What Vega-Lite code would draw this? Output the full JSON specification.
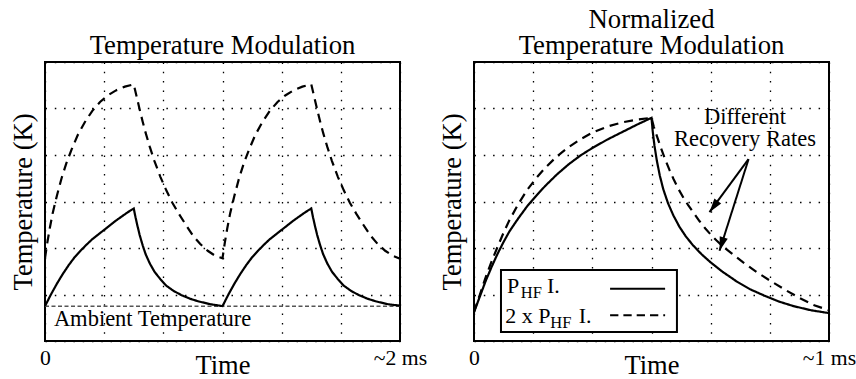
{
  "$schema": "https://vega.github.io/schema/vega-lite/v6.json",
  "padding": {"left": 9, "top": 6, "right": 0, "bottom": 0},
  "config": {
    "font": "Liberation Serif",
    "view": {"stroke": "#000", "strokeWidth": 2},
    "axis": {"grid": true, "gridColor": "#000", "gridDash": [1.5, 7.8], "gridWidth": 1.3, "gridOpacity": 1, "domain": false, "ticks": false, "tickSize": 0, "labelFont": "Liberation Serif", "labelFontSize": 21.7, "labelColor": "#000", "titleFont": "Liberation Serif", "titleFontSize": 26.5, "titleFontWeight": "normal", "titleColor": "#000", "labelOverlap": false, "labelFlush": false},
    "axisX": {"labelBaseline": "alphabetic", "labelPadding": 23, "titleBaseline": "alphabetic", "titleY": 32, "titleFontWeight": "normal"},
    "axisY": {"labels": false, "titlePadding": 8, "titleFontWeight": "normal"},
    "title": {"font": "Liberation Serif", "fontSize": 26.7, "fontWeight": "normal", "color": "#000", "offset": 2, "lineHeight": 26, "anchor": "middle"}
  },
  "datasets": {
    "left": [
      {"s":"P","t":0,"v":0.75},{"s":"P","t":0.1,"v":1.0},{"s":"P","t":0.2,"v":1.23},{"s":"P","t":0.3,"v":1.44},{"s":"P","t":0.4,"v":1.63},{"s":"P","t":0.5,"v":1.8},{"s":"P","t":0.6,"v":1.94},{"s":"P","t":0.7,"v":2.07},{"s":"P","t":0.8,"v":2.19},{"s":"P","t":0.9,"v":2.29},{"s":"P","t":1.0,"v":2.39},{"s":"P","t":1.1,"v":2.49},{"s":"P","t":1.2,"v":2.59},{"s":"P","t":1.3,"v":2.68},{"s":"P","t":1.4,"v":2.77},{"s":"P","t":1.5,"v":2.85},
      {"s":"P","t":1.53,"v":2.66},{"s":"P","t":1.56,"v":2.49},{"s":"P","t":1.6,"v":2.28},{"s":"P","t":1.65,"v":2.06},{"s":"P","t":1.7,"v":1.87},{"s":"P","t":1.77,"v":1.67},{"s":"P","t":1.85,"v":1.49},{"s":"P","t":1.95,"v":1.33},{"s":"P","t":2.05,"v":1.19},{"s":"P","t":2.17,"v":1.08},{"s":"P","t":2.3,"v":0.99},{"s":"P","t":2.45,"v":0.91},{"s":"P","t":2.6,"v":0.85},{"s":"P","t":2.8,"v":0.79},{"s":"P","t":3.0,"v":0.75},
      {"s":"P","t":3.1,"v":1.0},{"s":"P","t":3.2,"v":1.23},{"s":"P","t":3.3,"v":1.44},{"s":"P","t":3.4,"v":1.63},{"s":"P","t":3.5,"v":1.8},{"s":"P","t":3.6,"v":1.94},{"s":"P","t":3.7,"v":2.07},{"s":"P","t":3.8,"v":2.19},{"s":"P","t":3.9,"v":2.29},{"s":"P","t":4.0,"v":2.39},{"s":"P","t":4.1,"v":2.49},{"s":"P","t":4.2,"v":2.59},{"s":"P","t":4.3,"v":2.68},{"s":"P","t":4.4,"v":2.77},{"s":"P","t":4.5,"v":2.85},
      {"s":"P","t":4.53,"v":2.66},{"s":"P","t":4.56,"v":2.49},{"s":"P","t":4.6,"v":2.28},{"s":"P","t":4.65,"v":2.06},{"s":"P","t":4.7,"v":1.87},{"s":"P","t":4.77,"v":1.67},{"s":"P","t":4.85,"v":1.49},{"s":"P","t":4.95,"v":1.33},{"s":"P","t":5.05,"v":1.19},{"s":"P","t":5.17,"v":1.08},{"s":"P","t":5.3,"v":0.99},{"s":"P","t":5.45,"v":0.91},{"s":"P","t":5.6,"v":0.85},{"s":"P","t":5.8,"v":0.79},{"s":"P","t":6.0,"v":0.76},
      {"s":"2P","t":0,"v":1.78},{"s":"2P","t":0.04,"v":2.12},{"s":"2P","t":0.08,"v":2.42},{"s":"2P","t":0.13,"v":2.75},{"s":"2P","t":0.2,"v":3.12},{"s":"2P","t":0.28,"v":3.5},{"s":"2P","t":0.36,"v":3.82},{"s":"2P","t":0.45,"v":4.12},{"s":"2P","t":0.55,"v":4.42},{"s":"2P","t":0.67,"v":4.7},{"s":"2P","t":0.8,"v":4.95},{"s":"2P","t":0.93,"v":5.14},{"s":"2P","t":1.06,"v":5.28},{"s":"2P","t":1.2,"v":5.39},{"s":"2P","t":1.35,"v":5.47},{"s":"2P","t":1.5,"v":5.52},
      {"s":"2P","t":1.55,"v":5.25},{"s":"2P","t":1.6,"v":4.98},{"s":"2P","t":1.65,"v":4.72},{"s":"2P","t":1.7,"v":4.48},{"s":"2P","t":1.77,"v":4.18},{"s":"2P","t":1.85,"v":3.87},{"s":"2P","t":1.95,"v":3.53},{"s":"2P","t":2.05,"v":3.24},{"s":"2P","t":2.15,"v":2.98},{"s":"2P","t":2.26,"v":2.74},{"s":"2P","t":2.38,"v":2.5},{"s":"2P","t":2.5,"v":2.27},{"s":"2P","t":2.62,"v":2.09},{"s":"2P","t":2.75,"v":1.94},{"s":"2P","t":2.88,"v":1.83},{"s":"2P","t":3.0,"v":1.78},
      {"s":"2P","t":3.04,"v":2.12},{"s":"2P","t":3.08,"v":2.42},{"s":"2P","t":3.13,"v":2.75},{"s":"2P","t":3.2,"v":3.12},{"s":"2P","t":3.28,"v":3.5},{"s":"2P","t":3.36,"v":3.82},{"s":"2P","t":3.45,"v":4.12},{"s":"2P","t":3.55,"v":4.42},{"s":"2P","t":3.67,"v":4.7},{"s":"2P","t":3.8,"v":4.95},{"s":"2P","t":3.93,"v":5.14},{"s":"2P","t":4.06,"v":5.28},{"s":"2P","t":4.2,"v":5.39},{"s":"2P","t":4.35,"v":5.47},{"s":"2P","t":4.5,"v":5.52},
      {"s":"2P","t":4.55,"v":5.25},{"s":"2P","t":4.6,"v":4.98},{"s":"2P","t":4.65,"v":4.72},{"s":"2P","t":4.7,"v":4.48},{"s":"2P","t":4.77,"v":4.18},{"s":"2P","t":4.85,"v":3.87},{"s":"2P","t":4.95,"v":3.53},{"s":"2P","t":5.05,"v":3.24},{"s":"2P","t":5.15,"v":2.98},{"s":"2P","t":5.26,"v":2.74},{"s":"2P","t":5.38,"v":2.5},{"s":"2P","t":5.5,"v":2.27},{"s":"2P","t":5.62,"v":2.09},{"s":"2P","t":5.75,"v":1.94},{"s":"2P","t":5.88,"v":1.83},{"s":"2P","t":6.0,"v":1.77}
    ],
    "right": [
      {"s":"P","t":0,"v":0.62},{"s":"P","t":0.1,"v":0.96},{"s":"P","t":0.2,"v":1.3},{"s":"P","t":0.3,"v":1.6},{"s":"P","t":0.4,"v":1.88},{"s":"P","t":0.5,"v":2.13},{"s":"P","t":0.6,"v":2.36},{"s":"P","t":0.75,"v":2.64},{"s":"P","t":0.9,"v":2.9},{"s":"P","t":1.05,"v":3.12},{"s":"P","t":1.2,"v":3.33},{"s":"P","t":1.4,"v":3.58},{"s":"P","t":1.6,"v":3.8},{"s":"P","t":1.8,"v":3.99},{"s":"P","t":2.0,"v":4.15},{"s":"P","t":2.25,"v":4.33},{"s":"P","t":2.5,"v":4.49},{"s":"P","t":2.75,"v":4.65},{"s":"P","t":3.0,"v":4.8},
      {"s":"P","t":3.02,"v":4.52},{"s":"P","t":3.05,"v":4.2},{"s":"P","t":3.09,"v":3.88},{"s":"P","t":3.14,"v":3.56},{"s":"P","t":3.2,"v":3.26},{"s":"P","t":3.28,"v":2.96},{"s":"P","t":3.37,"v":2.7},{"s":"P","t":3.47,"v":2.46},{"s":"P","t":3.58,"v":2.25},{"s":"P","t":3.7,"v":2.06},{"s":"P","t":3.85,"v":1.86},{"s":"P","t":4.0,"v":1.69},{"s":"P","t":4.2,"v":1.49},{"s":"P","t":4.44,"v":1.28},{"s":"P","t":4.67,"v":1.11},{"s":"P","t":4.9,"v":0.98},{"s":"P","t":5.15,"v":0.85},{"s":"P","t":5.4,"v":0.75},{"s":"P","t":5.7,"v":0.66},{"s":"P","t":6.0,"v":0.6},
      {"s":"2P","t":0,"v":0.62},{"s":"2P","t":0.1,"v":1.0},{"s":"2P","t":0.2,"v":1.38},{"s":"2P","t":0.3,"v":1.72},{"s":"2P","t":0.4,"v":2.03},{"s":"2P","t":0.5,"v":2.33},{"s":"2P","t":0.6,"v":2.6},{"s":"2P","t":0.75,"v":2.95},{"s":"2P","t":0.9,"v":3.25},{"s":"2P","t":1.05,"v":3.5},{"s":"2P","t":1.2,"v":3.72},{"s":"2P","t":1.4,"v":3.97},{"s":"2P","t":1.6,"v":4.17},{"s":"2P","t":1.8,"v":4.34},{"s":"2P","t":2.0,"v":4.48},{"s":"2P","t":2.25,"v":4.61},{"s":"2P","t":2.5,"v":4.7},{"s":"2P","t":2.75,"v":4.76},{"s":"2P","t":3.0,"v":4.8},
      {"s":"2P","t":3.04,"v":4.6},{"s":"2P","t":3.09,"v":4.41},{"s":"2P","t":3.16,"v":4.15},{"s":"2P","t":3.23,"v":3.91},{"s":"2P","t":3.3,"v":3.69},{"s":"2P","t":3.37,"v":3.49},{"s":"2P","t":3.45,"v":3.28},{"s":"2P","t":3.54,"v":3.08},{"s":"2P","t":3.62,"v":2.92},{"s":"2P","t":3.71,"v":2.76},{"s":"2P","t":3.81,"v":2.58},{"s":"2P","t":3.91,"v":2.42},{"s":"2P","t":4.0,"v":2.29},{"s":"2P","t":4.1,"v":2.16},{"s":"2P","t":4.22,"v":2.02},{"s":"2P","t":4.36,"v":1.88},{"s":"2P","t":4.55,"v":1.69},{"s":"2P","t":4.78,"v":1.48},{"s":"2P","t":5.0,"v":1.3},{"s":"2P","t":5.26,"v":1.1},{"s":"2P","t":5.51,"v":0.92},{"s":"2P","t":5.75,"v":0.77},{"s":"2P","t":6.0,"v":0.66}
    ]
  },
  "hconcat": [
    {
      "width": 355, "height": 279,
      "title": {"text": "Temperature Modulation"},
      "layer": [
        {
          "data": {"values": [{}]},
          "mark": {"type": "rule", "color": "#555", "strokeDash": [4, 2.5], "strokeWidth": 1.5},
          "encoding": {"y": {"datum": 0.75, "type": "quantitative", "scale": {"domain": [0, 6], "nice": false, "zero": false}}}
        },
        {
          "data": {"name": "left"},
          "mark": {"type": "line", "color": "#000", "strokeWidth": 2.2},
          "encoding": {
            "x": {"field": "t", "type": "quantitative", "scale": {"domain": [0, 6], "nice": false, "zero": false}, "axis": {"values": [0,1,2,3,4,5,6], "labelExpr": "datum.value == 0 ? '0' : (datum.value == 6 ? '~2 ms' : '')", "title": "Time", "titleFontWeight": "normal"}},
            "y": {"field": "v", "type": "quantitative", "scale": {"domain": [0, 6], "nice": false, "zero": false}, "axis": {"values": [0,1,2,3,4,5,6], "title": "Temperature (K)", "titleFontWeight": "normal"}},
            "detail": {"field": "s"},
            "strokeDash": {"field": "s", "type": "nominal", "scale": {"domain": ["P", "2P"], "range": [[1, 0], [9, 6]]}, "legend": null}
          }
        },
        {
          "data": {"values": [{}]},
          "mark": {"type": "text", "align": "left", "baseline": "alphabetic", "fontSize": 22.5, "font": "Liberation Serif", "color": "#000"},
          "encoding": {
            "x": {"datum": 0.15, "type": "quantitative"},
            "y": {"datum": 0.32, "type": "quantitative"},
            "text": {"value": "Ambient Temperature"}
          }
        }
      ]
    },
    {
      "width": 355, "height": 279,
      "title": {"text": ["Normalized", "Temperature Modulation"]},
      "layer": [
        {
          "data": {"name": "right"},
          "mark": {"type": "line", "color": "#000", "strokeWidth": 2.2},
          "encoding": {
            "x": {"field": "t", "type": "quantitative", "scale": {"domain": [0, 6], "nice": false, "zero": false}, "axis": {"values": [0,1,2,3,4,5,6], "labelExpr": "datum.value == 0 ? '0' : (datum.value == 6 ? '~1 ms' : '')", "title": "Time", "titleFontWeight": "normal"}},
            "y": {"field": "v", "type": "quantitative", "scale": {"domain": [0, 6], "nice": false, "zero": false}, "axis": {"values": [0,1,2,3,4,5,6], "title": "Temperature (K)", "titleFontWeight": "normal"}},
            "detail": {"field": "s"},
            "strokeDash": {"field": "s", "type": "nominal", "scale": {"domain": ["P", "2P"], "range": [[1, 0], [9, 6]]}, "legend": null}
          }
        },
        {
          "data": {"values": [{}]},
          "mark": {"type": "rect", "fill": "#fff", "stroke": "#000", "strokeWidth": 2},
          "encoding": {
            "x": {"datum": 0.456, "type": "quantitative"},
            "x2": {"datum": 3.43},
            "y": {"datum": 0.194, "type": "quantitative"},
            "y2": {"datum": 1.527}
          }
        },
        {
          "data": {"values": [{}]},
          "mark": {"type": "rule", "color": "#000", "strokeWidth": 2},
          "encoding": {
            "x": {"datum": 2.3, "type": "quantitative"},
            "x2": {"datum": 3.23},
            "y": {"datum": 1.125, "type": "quantitative"}
          }
        },
        {
          "data": {"values": [{}]},
          "mark": {"type": "rule", "color": "#000", "strokeWidth": 2, "strokeDash": [8.3, 5]},
          "encoding": {
            "x": {"datum": 2.3, "type": "quantitative"},
            "x2": {"datum": 3.23},
            "y": {"datum": 0.553, "type": "quantitative"}
          }
        },
        {
          "data": {"values": [{}]},
          "mark": {"type": "text", "align": "left", "baseline": "alphabetic", "fontSize": 22, "font": "Liberation Serif", "color": "#000"},
          "encoding": {"x": {"datum": 0.558, "type": "quantitative"}, "y": {"datum": 1.026, "type": "quantitative"}, "text": {"value": "P"}}
        },
        {
          "data": {"values": [{}]},
          "mark": {"type": "text", "align": "left", "baseline": "alphabetic", "fontSize": 16.5, "font": "Liberation Serif", "color": "#000"},
          "encoding": {"x": {"datum": 0.79, "type": "quantitative"}, "y": {"datum": 0.93, "type": "quantitative"}, "text": {"value": "HF"}}
        },
        {
          "data": {"values": [{}]},
          "mark": {"type": "text", "align": "left", "baseline": "alphabetic", "fontSize": 22, "font": "Liberation Serif", "color": "#000"},
          "encoding": {"x": {"datum": 1.234, "type": "quantitative"}, "y": {"datum": 1.026, "type": "quantitative"}, "text": {"value": "I."}}
        },
        {
          "data": {"values": [{}]},
          "mark": {"type": "text", "align": "left", "baseline": "alphabetic", "fontSize": 22, "font": "Liberation Serif", "color": "#000"},
          "encoding": {"x": {"datum": 0.529, "type": "quantitative"}, "y": {"datum": 0.39, "type": "quantitative"}, "text": {"value": "2 x P"}}
        },
        {
          "data": {"values": [{}]},
          "mark": {"type": "text", "align": "left", "baseline": "alphabetic", "fontSize": 16.5, "font": "Liberation Serif", "color": "#000"},
          "encoding": {"x": {"datum": 1.29, "type": "quantitative"}, "y": {"datum": 0.29, "type": "quantitative"}, "text": {"value": "HF"}}
        },
        {
          "data": {"values": [{}]},
          "mark": {"type": "text", "align": "left", "baseline": "alphabetic", "fontSize": 22, "font": "Liberation Serif", "color": "#000"},
          "encoding": {"x": {"datum": 1.77, "type": "quantitative"}, "y": {"datum": 0.39, "type": "quantitative"}, "text": {"value": "I."}}
        },
        {
          "data": {"values": [{}]},
          "mark": {"type": "text", "align": "center", "baseline": "alphabetic", "fontSize": 22.5, "font": "Liberation Serif", "color": "#000"},
          "encoding": {"x": {"datum": 4.58, "type": "quantitative"}, "y": {"datum": 4.656, "type": "quantitative"}, "text": {"value": "Different"}}
        },
        {
          "data": {"values": [{}]},
          "mark": {"type": "text", "align": "center", "baseline": "alphabetic", "fontSize": 22.5, "font": "Liberation Serif", "color": "#000"},
          "encoding": {"x": {"datum": 4.58, "type": "quantitative"}, "y": {"datum": 4.204, "type": "quantitative"}, "text": {"value": "Recovery Rates"}}
        },
        {
          "data": {"values": [{}]},
          "mark": {"type": "rule", "color": "#000", "strokeWidth": 2},
          "encoding": {"x": {"datum": 4.64, "type": "quantitative"}, "y": {"datum": 3.91, "type": "quantitative"}, "x2": {"datum": 3.98}, "y2": {"datum": 2.77}}
        },
        {
          "data": {"values": [{}]},
          "mark": {"type": "rule", "color": "#000", "strokeWidth": 2},
          "encoding": {"x": {"datum": 4.64, "type": "quantitative"}, "y": {"datum": 3.91, "type": "quantitative"}, "x2": {"datum": 4.15}, "y2": {"datum": 1.94}}
        },
        {
          "data": {"values": [{}]},
          "mark": {"type": "point", "shape": "M0,0L0.6,2L-0.6,2Z", "filled": true, "size": 196, "angle": 216.4, "color": "#000", "opacity": 1},
          "encoding": {"x": {"datum": 3.98, "type": "quantitative"}, "y": {"datum": 2.77, "type": "quantitative"}}
        },
        {
          "data": {"values": [{}]},
          "mark": {"type": "point", "shape": "M0,0L0.6,2L-0.6,2Z", "filled": true, "size": 196, "angle": 197.5, "color": "#000", "opacity": 1},
          "encoding": {"x": {"datum": 4.15, "type": "quantitative"}, "y": {"datum": 1.94, "type": "quantitative"}}
        }
      ]
    }
  ],
  "bounds": "flush",
  "spacing": 74
}
